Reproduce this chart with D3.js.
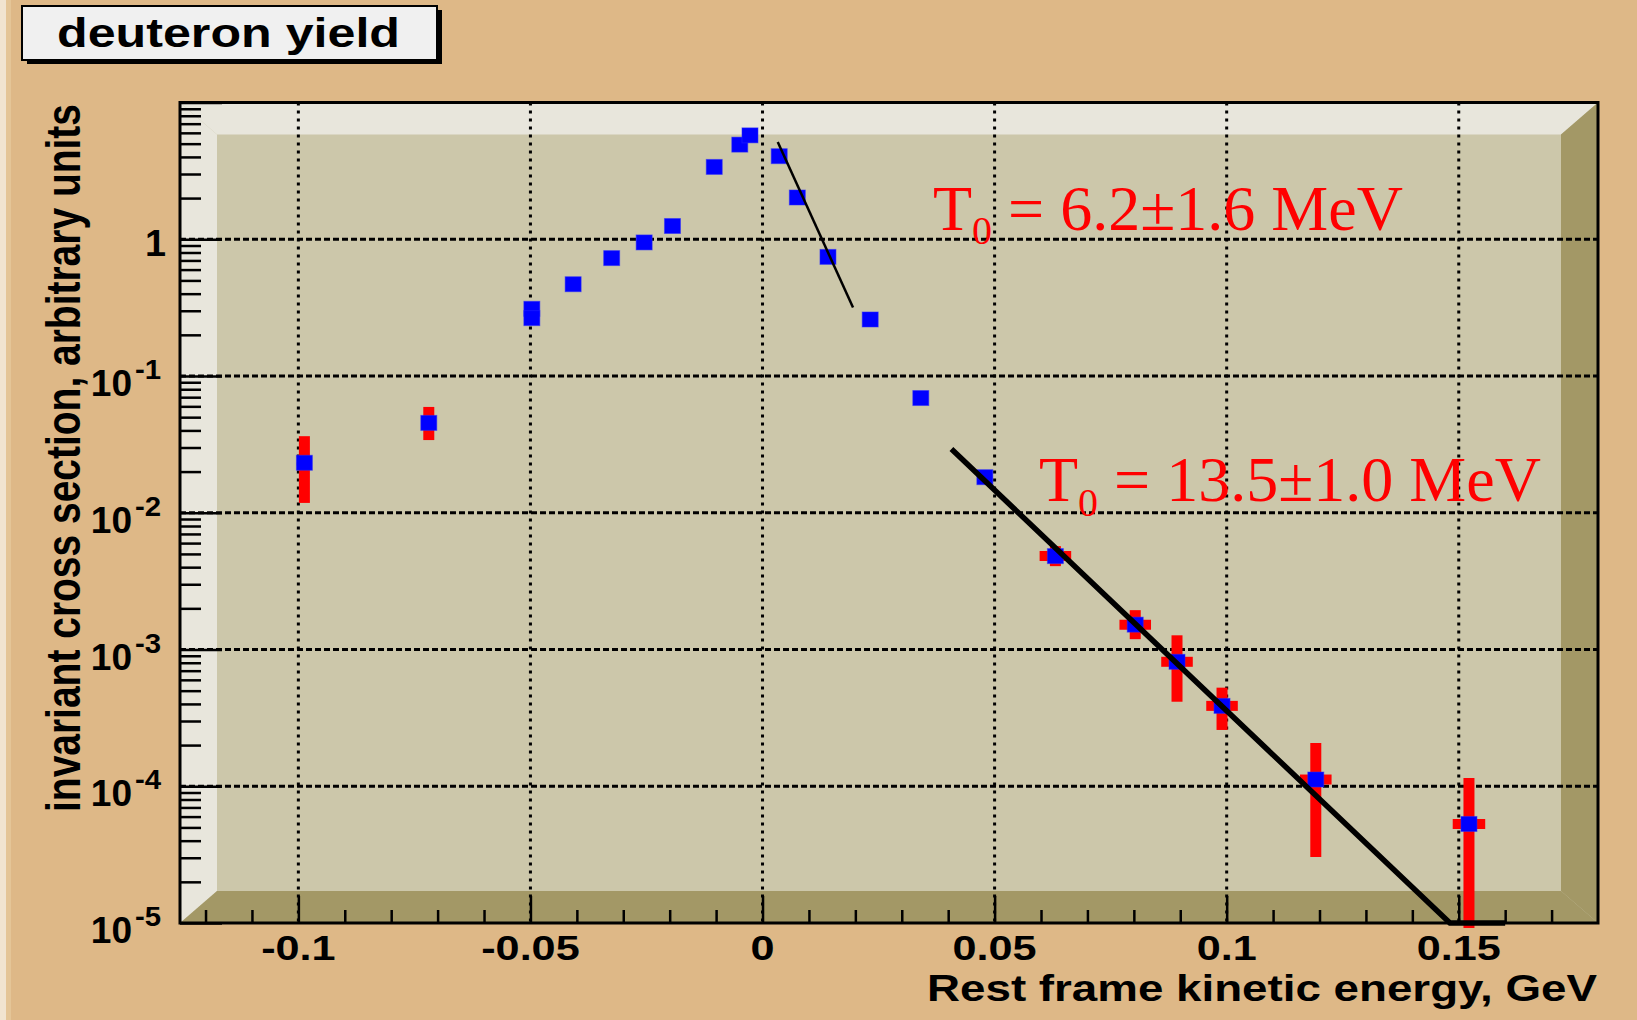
<!DOCTYPE html>
<html><head><meta charset="utf-8">
<script src="https://cdn.jsdelivr.net/npm/d3@7"></script>
<style>body{margin:0;background:#deb887;} svg{display:block}</style>
</head><body>
<svg id="c" width="1637" height="1020"></svg>
<script>
// ---------- data ----------
const energy   = [-0.0987, -0.0719, -0.0497, -0.0497, -0.0408, -0.0325, -0.0255, -0.0194, -0.0104, -0.0049, -0.0027,
                  0.0036, 0.0075, 0.0141, 0.0232, 0.0341, 0.0479, 0.0631, 0.0803, 0.0893, 0.0990, 0.1192, 0.1522];
const yieldVal = [0.0232, 0.0454, 0.31, 0.265, 0.469, 0.728, 0.948, 1.25, 3.38, 4.92, 5.75,
                  4.05, 2.02, 0.743, 0.259, 0.0690, 0.0182, 4.82e-3, 1.52e-3, 8.13e-4, 3.87e-4, 1.12e-4, 5.30e-5];
const yLow     = [0.0118, 0.034, null, null, null, null, null, null, null, null, null,
                  null, null, null, null, null, null, 4.07e-3, 1.19e-3, 4.15e-4, 2.58e-4, 3.04e-5, 9.2e-6];
const yHigh    = [0.0363, 0.0594, null, null, null, null, null, null, null, null, null,
                  null, null, null, null, null, null, 5.70e-3, 1.94e-3, 1.27e-3, 5.26e-4, 2.07e-4, 1.15e-4];
const xErr     = [0, 0, 0, 0, 0, 0, 0, 0, 0, 0, 0,
                  0, 0, 0, 0, 0, 0, 0.0034, 0.0034, 0.0034, 0.0034, 0.0034, 0.0035];

const fitLowE  = [0.00328, 0.0195];
const fitLowY  = [5.14, 0.317];
const fitHighE = [0.0407, 0.1481, 0.160];
const fitHighY = [0.0292, 1e-5, 1e-5];

const xTicks = [-0.1, -0.05, 0, 0.05, 0.1, 0.15];
const xTickLabels = ["-0.1", "-0.05", "0", "0.05", "0.1", "0.15"];
const xMinor = [-0.12,-0.11,-0.09,-0.08,-0.07,-0.06,-0.04,-0.03,-0.02,-0.01,0.01,0.02,0.03,0.04,0.06,0.07,0.08,0.09,0.11,0.12,0.13,0.14,0.16,0.17];
const yTicks = [1, 0.1, 0.01, 0.001, 1e-4, 1e-5];
const yTickBase = ["1", "10", "10", "10", "10", "10"];
const yTickExp  = ["", "-1", "-2", "-3", "-4", "-5"];

const titleText = "deuteron yield";
const xTitle = "Rest frame kinetic energy, GeV";
const yTitle = "invariant cross section, arbitrary units";
const fitLabels = [{pre:"T", sub:"0", post:" = 6.2\u00B11.6 MeV"},
                   {pre:"T", sub:"0", post:" = 13.5\u00B11.0 MeV"}];

// ---------- layout ----------
const L = 180, R = 1598, T = 102.5, B = 923;
const bx = 37, by = 32;
const SX = 1.2;
const svg = d3.select("#c");
const x = d3.scaleLinear().domain([-0.1255, 0.18]).range([L, R]);
const y = d3.scaleLog().domain([1e-5, 10]).range([B, T]);

// canvas
svg.append("rect").attr("width",1637).attr("height",1020).attr("fill","#deb887");
svg.append("rect").attr("x",0).attr("y",0).attr("width",6).attr("height",1020).attr("fill","#f1e4d0");
svg.append("rect").attr("x",6).attr("y",0).attr("width",5).attr("height",1020).attr("fill","#e4c597");

// frame
svg.append("rect").attr("x",L).attr("y",T).attr("width",R-L).attr("height",B-T).attr("fill","#ccc7aa");
const poly = (pts, fill) => svg.append("polygon").attr("points", pts.map(p=>p.join(",")).join(" ")).attr("fill", fill);
poly([[L,T],[R,T],[R-bx,T+by],[L+bx,T+by]], "#e8e6dc");
poly([[L,T],[L+bx,T+by],[L+bx,B-by],[L,B]], "#e8e6dc");
poly([[L,B],[L+bx,B-by],[R-bx,B-by],[R,B]], "#a39866");
poly([[R,T],[R-bx,T+by],[R-bx,B-by],[R,B]], "#a39866");

// grid
const grid = svg.append("g");
grid.selectAll("line.gx").data(xTicks).join("line")
  .attr("x1",d=>x(d)).attr("x2",d=>x(d)).attr("y1",T).attr("y2",B)
  .attr("stroke","#000").attr("stroke-width",3).attr("stroke-dasharray","3 5");
grid.selectAll("line.gy").data(yTicks.slice(0,5)).join("line")
  .attr("x1",L).attr("x2",R).attr("y1",d=>y(d)).attr("y2",d=>y(d))
  .attr("stroke","#000").attr("stroke-width",3).attr("stroke-dasharray","6 3");

// axes (ticks inward)
const xAx = svg.append("g").attr("transform",`translate(0,${B})`)
  .call(d3.axisBottom(x).tickValues(xTicks).tickSize(-27).tickFormat(""));
const xAxm = svg.append("g").attr("transform",`translate(0,${B})`)
  .call(d3.axisBottom(x).tickValues(xMinor).tickSize(-13).tickFormat(""));
const yMinor = [];
[1e-5,1e-4,1e-3,1e-2,1e-1,1].forEach(dec => { for (let k=2;k<=9;k++) yMinor.push(dec*k); });
const yAx = svg.append("g").attr("transform",`translate(${L},0)`)
  .call(d3.axisLeft(y).tickValues(yTicks.concat([10])).tickSize(-42).tickFormat(""));
const yAxm = svg.append("g").attr("transform",`translate(${L},0)`)
  .call(d3.axisLeft(y).tickValues(yMinor).tickSize(-21).tickFormat(""));
[xAx,xAxm,yAx,yAxm].forEach(g => {
  g.select(".domain").remove();
  g.selectAll(".tick line").attr("stroke","#000").attr("stroke-width",2.5);
});

// frame border
svg.append("rect").attr("x",L).attr("y",T).attr("width",R-L).attr("height",B-T)
  .attr("fill","none").attr("stroke","#000").attr("stroke-width",3);

// stretched text helper
function stext(g, px, py, str, size, anchor, weight, len, sx) {
  const s = sx || SX;
  const t = g.append("text").attr("transform",`translate(${px},${py}) scale(${s},1)`)
    .attr("font-family","'Liberation Sans', Arial, Helvetica, sans-serif")
    .attr("font-weight", weight || "bold").attr("font-size", size)
    .attr("text-anchor", anchor).attr("fill","#000").text(str);
  if (len) t.attr("textLength", len/s).attr("lengthAdjust","spacingAndGlyphs");
  return t;
}

// tick labels
const lab = svg.append("g");
xTicks.forEach((v,i) => stext(lab, x(v), 960, xTickLabels[i], 36, "middle"));
yTicks.forEach((v,i) => {
  if (yTickExp[i] === "") {
    stext(lab, 166, y(v)+16.5, yTickBase[i], 36, "end", "bold", null, 1.05);
  } else {
    stext(lab, 132, y(v)+20, yTickBase[i], 36, "end", "bold", null, 1.03);
    stext(lab, 135, y(v)+3, yTickExp[i], 28, "start", "bold", null, 1.05);
  }
});

// axis titles
stext(lab, 1597, 1001, xTitle, 37.5, "end", "bold", 670);
lab.append("text").attr("transform",`translate(80,458) scale(1.23,1) rotate(-90)`)
  .attr("font-family","'Liberation Sans', Arial, sans-serif").attr("font-weight","bold")
  .attr("font-size",39).attr("text-anchor","middle").attr("textLength",708).attr("lengthAdjust","spacingAndGlyphs")
  .text(yTitle);

// title box
svg.append("rect").attr("x",27).attr("y",10).attr("width",415).attr("height",54).attr("fill","#000");
svg.append("rect").attr("x",22).attr("y",6).attr("width",415).attr("height",54).attr("fill","#f0f0f0")
  .attr("stroke","#000").attr("stroke-width",2);
stext(svg, 228.5, 47, titleText, 40, "middle", "bold", 343);

// data
const pts = energy.map((e,i)=>({e, v:yieldVal[i], lo:yLow[i], hi:yHigh[i], xe:xErr[i]}));
const plot = svg.append("g");
pts.filter(d=>d.lo!==null).forEach(d => {
  plot.append("line").attr("x1",x(d.e)).attr("x2",x(d.e)).attr("y1",y(d.hi)).attr("y2",y(d.lo))
    .attr("stroke","#ff0000").attr("stroke-width",11);
  if (d.xe>0) plot.append("line").attr("x1",x(d.e-d.xe)).attr("x2",x(d.e+d.xe)).attr("y1",y(d.v)).attr("y2",y(d.v))
    .attr("stroke","#ff0000").attr("stroke-width",10);
});
plot.selectAll("rect.m").data(pts).join("rect")
  .attr("x",d=>x(d.e)-8).attr("y",d=>y(d.v)-7.5).attr("width",16).attr("height",15)
  .attr("fill","#0000ff").attr("stroke","rgba(40,40,255,0.5)").attr("stroke-width",1);

// fits
const line = d3.line().x(d=>x(d[0])).y(d=>y(d[1]));
plot.append("path").datum(fitLowE.map((e,i)=>[e,fitLowY[i]])).attr("d",line)
  .attr("fill","none").attr("stroke","#000").attr("stroke-width",2.5);
plot.append("path").datum(fitHighE.map((e,i)=>[e,fitHighY[i]])).attr("d",line)
  .attr("fill","none").attr("stroke","#000").attr("stroke-width",5.5);

// fit annotations
const ann = [{xp:933, yp:229.5},{xp:1039, yp:501}];
fitLabels.forEach((f,i) => {
  const t = svg.append("text").attr("x",ann[i].xp).attr("y",ann[i].yp)
    .attr("font-family","'Liberation Serif', 'Times New Roman', serif").attr("font-size",64)
    .attr("fill","#ff0000").style("white-space","pre");
  t.append("tspan").text(f.pre);
  t.append("tspan").attr("font-size",40).attr("dy",14.5).text(f.sub);
  t.append("tspan").attr("dy",-14.5).text(f.post);
});
</script>
</body></html>
